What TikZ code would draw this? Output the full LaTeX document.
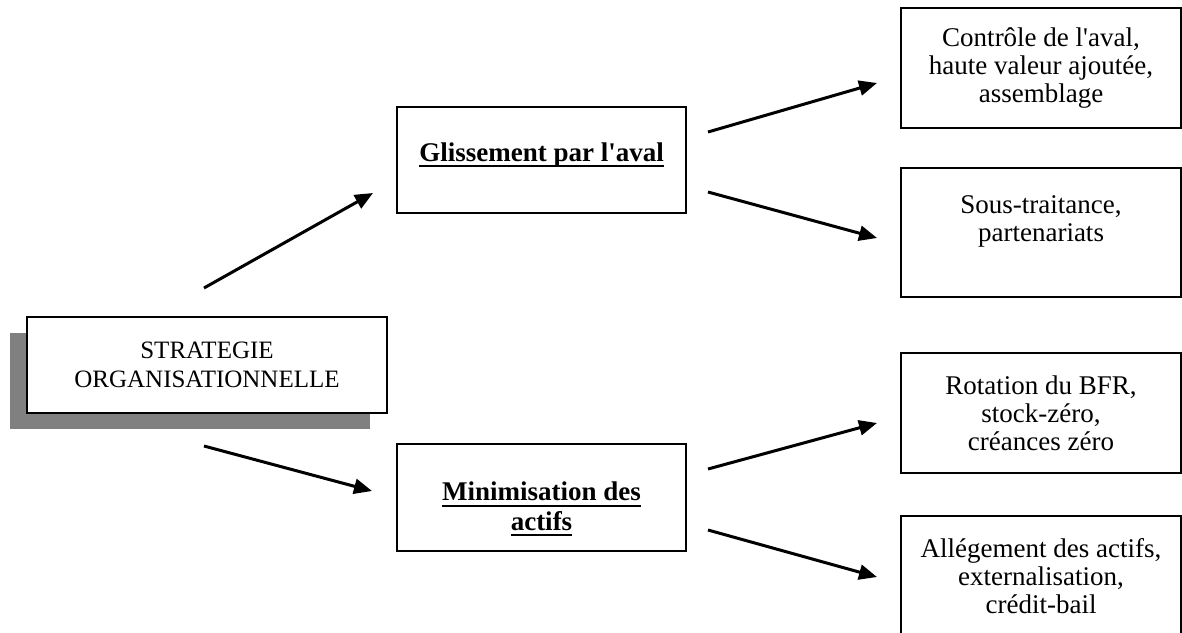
\documentclass[tikz,border=0pt]{standalone}
\usepackage{fontspec}
\setmainfont{Liberation Serif}
\usetikzlibrary{arrows.meta, shadows}

\newsavebox\undlbox
\newcommand{\undl}[1]{\sbox\undlbox{#1}\rlap{\rule[-6pt]{\wd\undlbox}{2.2pt}}\usebox\undlbox}

\begin{document}
\begin{tikzpicture}[x=1pt, y=-1pt,
  box/.style={draw, line width=2pt, align=center, inner sep=0pt},
  leaf/.style={box, minimum width=280pt, minimum height=120pt, font=\fontsize{27}{28}\selectfont},
  branch/.style={box, minimum width=289pt, minimum height=106pt, font=\bfseries\fontsize{27}{29.5}\selectfont},
  link/.style={line width=3pt, -{Triangle[length=18pt, width=15pt]}}]
\useasboundingbox (0,0) rectangle (1182,632);

\node at (207, 365) [box, fill=white, minimum width=360pt, minimum height=96pt,
  font=\fontsize{25}{28.5}\selectfont,
  drop shadow={shadow xshift=-17pt, shadow yshift=-16pt, fill=black!50, opacity=1}] (strat) {STRATEGIE\\ORGANISATIONNELLE};

\node at (541.5, 160) [branch] (gliss) {\undl{Glissement par l\textquotesingle aval}\rule[-16pt]{0pt}{1pt}};
\node at (541.5, 497.5) [branch, minimum height=107pt] (mini) {\rule{0pt}{42pt}\undl{Minimisation des}\\\undl{actifs}};

\node at (1041, 68) [leaf] (aval) {Contrôle de l\textquotesingle aval,\\haute valeur ajoutée,\\assemblage};
\node at (1041, 232.5) [leaf, minimum height=129pt] (soustr) {Sous-traitance,\\partenariats\\\mbox{}};
\node at (1041, 413) [leaf] (bfr) {Rotation du BFR,\\stock-zéro,\\créances zéro};
\node at (1041, 576) [leaf] (allege) {Allégement des actifs,\\externalisation,\\crédit-bail};

\coordinate (s1) at (204, 288);
\coordinate (e1) at (373, 193);
\coordinate (s2) at (204, 446);
\coordinate (e2) at (372, 491);
\coordinate (s3) at (708, 132);
\coordinate (e3) at (877, 83);
\coordinate (s4) at (708, 192);
\coordinate (e4) at (877, 238);
\coordinate (s5) at (708, 469);
\coordinate (e5) at (877, 423);
\coordinate (s6) at (708, 530);
\coordinate (e6) at (877, 577);

\draw [link] (s1) to (e1);
\draw [link] (s2) to (e2);
\draw [link] (s3) to (e3);
\draw [link] (s4) to (e4);
\draw [link] (s5) to (e5);
\draw [link] (s6) to (e6);
\end{tikzpicture}
\end{document}
